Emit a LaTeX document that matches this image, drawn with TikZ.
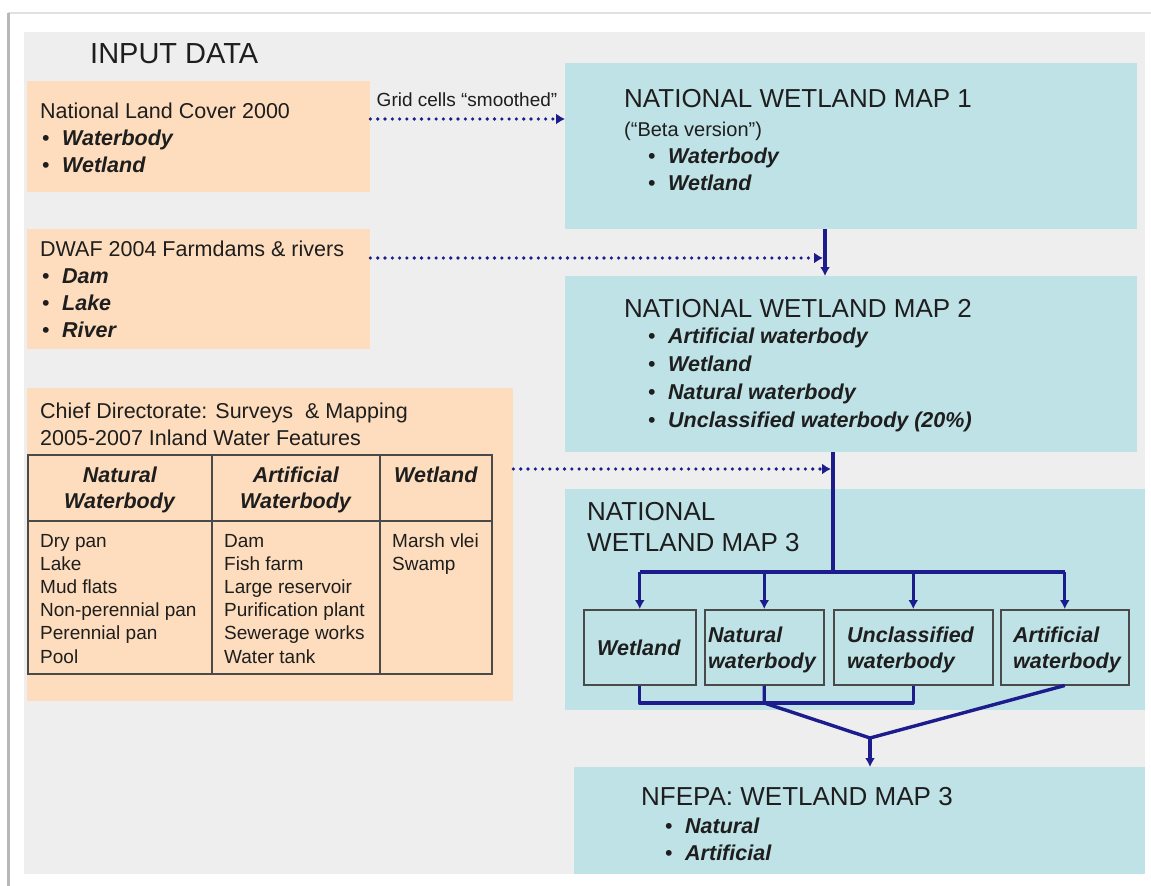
\documentclass[tikz,border=0pt]{standalone}
\usepackage{fontspec}
\setmainfont{Liberation Sans}
\usetikzlibrary{arrows.meta}

\definecolor{panelgray}{HTML}{EEEEEE}
\definecolor{peach}{HTML}{FDDDBD}
\definecolor{aqua}{HTML}{BEE2E6}
\definecolor{flowblue}{HTML}{1C1C8C}
\definecolor{ink}{HTML}{1E1E1E}
\definecolor{rulegray}{HTML}{4A4A4A}

% font size in pt, baseline skip equal to size
\newcommand\fsz[1]{\fontsize{#1}{#1}\selectfont}
% bullet list entry in bold italic
\newcommand\itm[1]{\makebox[20pt][l]{\textbullet}\textbf{\textit{#1}}}
\newcommand\bi[1]{\textbf{\textit{#1}}}

\begin{document}
\begin{tikzpicture}[x=1pt,y=-1pt,
  srcbox/.style={fill=peach,draw=none,anchor=north west,inner sep=0pt},
  mapbox/.style={fill=aqua,draw=none,anchor=north west,inner sep=0pt},
  catbox/.style={fill=aqua,draw=rulegray,line width=1.5pt,anchor=north west,inner sep=0pt},
  txt/.style={anchor=base west,inner sep=0pt,text=ink},
  ctxt/.style={anchor=base,inner sep=0pt,text=ink},
  flow/.style={draw=flowblue,line width=3.4pt},
  tip/.style={-{Latex[length=9pt,width=10pt]}},
  dotflow/.style={draw=flowblue,line width=3.6pt,line cap=round,
    dash pattern=on 0pt off 7.3pt,-{Latex[length=9pt,width=11pt]}},
  tablerule/.style={draw=rulegray,line width=1.7pt}]

\useasboundingbox (0,0) rectangle (1151,886);
\fill[white] (0,0) rectangle (1151,886);
% page frame and slide panel
\draw[draw=black!12,line width=2pt] (8,13) -- (1151,13);
\draw[draw=black!28,line width=3pt] (8,13) -- (8,886);
\fill[panelgray] (24,32) rectangle (1145,874);

\node[txt,font=\fsz{29}] (inhead) at (90,63) {INPUT DATA};

% ---------- input boxes ----------
\node[srcbox,minimum width=343pt,minimum height=111pt] (lc) at (27,81) {};
\node[txt,font=\fsz{21.5}] (lct) at (40,118) {National Land Cover 2000};
\node[txt,font=\fsz{21.5}] (lc1) at (42,145) {\itm{Waterbody}};
\node[txt,font=\fsz{21.5}] (lc2) at (42,172) {\itm{Wetland}};

\node[srcbox,minimum width=343pt,minimum height=120pt] (dwaf) at (27,229) {};
\node[txt,font=\fsz{21.5}] (dwt) at (40,256) {DWAF 2004 Farmdams \& rivers};
\node[txt,font=\fsz{21.5}] (dw1) at (42,283) {\itm{Dam}};
\node[txt,font=\fsz{21.5}] (dw2) at (42,310) {\itm{Lake}};
\node[txt,font=\fsz{21.5}] (dw3) at (42,337) {\itm{River}};

\node[srcbox,minimum width=486pt,minimum height=313pt] (cd) at (27,388) {};
\node[txt,font=\fsz{21.5}] (cdt1) at (40,418) {Chief Directorate: Surveys \ \& Mapping};
\node[txt,font=\fsz{21.5}] (cdt2) at (40,445) {2005-2007 Inland Water Features};

% feature table
\draw[tablerule] (28,455) rectangle (492,674);
\draw[tablerule] (28,521) -- (492,521);
\draw[tablerule] (212,455) -- (212,674);
\draw[tablerule] (380,455) -- (380,674);
\node[ctxt,font=\fsz{21.5}] (h1a) at (120,482) {\bi{Natural}};
\node[ctxt,font=\fsz{21.5}] (h1b) at (120,508) {\bi{Waterbody}};
\node[ctxt,font=\fsz{21.5}] (h2a) at (296,482) {\bi{Artificial}};
\node[ctxt,font=\fsz{21.5}] (h2b) at (296,508) {\bi{Waterbody}};
\node[ctxt,font=\fsz{21.5}] (h3a) at (436,482) {\bi{Wetland}};
\foreach \t [count=\i from 0] in {Dry pan,Lake,Mud flats,Non-perennial pan,Perennial pan,Pool}
  \node[txt,font=\fsz{19}] (na\i) at (40,547+23.2*\i) {\t};
\foreach \t [count=\i from 0] in {Dam,Fish farm,Large reservoir,Purification plant,Sewerage works,Water tank}
  \node[txt,font=\fsz{19}] (ar\i) at (224,547+23.2*\i) {\t};
\foreach \t [count=\i from 0] in {Marsh vlei,Swamp}
  \node[txt,font=\fsz{19}] (wl\i) at (392,547+23.2*\i) {\t};

% ---------- wetland maps ----------
\node[mapbox,minimum width=572pt,minimum height=166pt] (map1) at (565,63) {};
\node[txt,font=\fsz{26}] (m1t) at (624,107) {NATIONAL WETLAND MAP 1};
\node[txt,font=\fsz{20}] (m1s) at (624,136) {(“Beta version”)};
\node[txt,font=\fsz{21.5}] (m1a) at (648,163) {\itm{Waterbody}};
\node[txt,font=\fsz{21.5}] (m1b) at (648,190) {\itm{Wetland}};

\node[mapbox,minimum width=572pt,minimum height=176pt] (map2) at (565,276) {};
\node[txt,font=\fsz{26}] (m2t) at (624,317) {NATIONAL WETLAND MAP 2};
\node[txt,font=\fsz{21.5}] (m2a) at (648,343) {\itm{Artificial waterbody}};
\node[txt,font=\fsz{21.5}] (m2b) at (648,371) {\itm{Wetland}};
\node[txt,font=\fsz{21.5}] (m2c) at (648,399) {\itm{Natural waterbody}};
\node[txt,font=\fsz{21.5}] (m2d) at (648,427) {\itm{Unclassified waterbody (20\%)}};

\node[mapbox,minimum width=580pt,minimum height=221pt] (map3) at (565,489) {};
\node[txt,font=\fsz{26}] (m3t1) at (587,520) {NATIONAL};
\node[txt,font=\fsz{26}] (m3t2) at (587,551) {WETLAND MAP 3};

\node[catbox,minimum width=112pt,minimum height=75pt] (wet) at (583,609) {};
\node[catbox,minimum width=119pt,minimum height=75pt] (nat) at (704,609) {};
\node[catbox,minimum width=159pt,minimum height=75pt] (unc) at (833,609) {};
\node[catbox,minimum width=128pt,minimum height=75pt] (art) at (1000,609) {};
\node[ctxt,font=\fsz{21.5}] (wett) at (639,655) {\bi{Wetland}};
\node[txt,font=\fsz{21.5}] (nat1) at (708,642) {\bi{Natural}};
\node[txt,font=\fsz{21.5}] (nat2) at (708,668) {\bi{waterbody}};
\node[txt,font=\fsz{21.5}] (unc1) at (847,642) {\bi{Unclassified}};
\node[txt,font=\fsz{21.5}] (unc2) at (847,668) {\bi{waterbody}};
\node[txt,font=\fsz{21.5}] (art1) at (1013,642) {\bi{Artificial}};
\node[txt,font=\fsz{21.5}] (art2) at (1013,668) {\bi{waterbody}};

\node[mapbox,minimum width=571pt,minimum height=107pt] (nfepa) at (574,767) {};
\node[txt,font=\fsz{26}] (nft) at (641,805) {NFEPA: WETLAND MAP 3};
\node[txt,font=\fsz{21.5}] (nf1) at (665,833) {\itm{Natural}};
\node[txt,font=\fsz{21.5}] (nf2) at (665,860) {\itm{Artificial}};

% ---------- connectors ----------
\coordinate (gy) at (0,119);
\draw[dotflow] (lc.east |- gy) -- (map1.west |- gy);
\node[ctxt,font=\fsz{19}] (gridlbl) at (467,106) {Grid cells “smoothed”};

\coordinate (c12) at (825,0);
\draw[flow,tip] (map1.south -| c12) -- (map2.north -| c12);

\coordinate (d2) at (823,258);
\draw[dotflow] (dwaf.east |- d2) -- (d2);

\coordinate (d3) at (831,469);
\draw[dotflow] (cd.east |- d3) -- (d3);

\coordinate (split) at (833,572);
\draw[flow] (map2.south -| split) -- (split);
\draw[flow] (wet.north |- split) -- (art.north |- split);
\foreach \b in {wet,nat,unc,art}
  \draw[flow,tip] (\b.north |- split) -- (\b.north);

\coordinate (merge) at (0,703);
\coordinate (gather) at (870,738);
\draw[flow,line join=round] (wet.south) -- (wet.south |- merge) -- (unc.south |- merge) -- (unc.south);
\draw[flow,line join=round] (nat.south) -- (nat.south |- merge) -- (gather);
\draw[flow,line join=round] (art.south) -- (gather);
\draw[flow,tip] (gather) -- (nfepa.north -| gather);

\end{tikzpicture}
\end{document}
